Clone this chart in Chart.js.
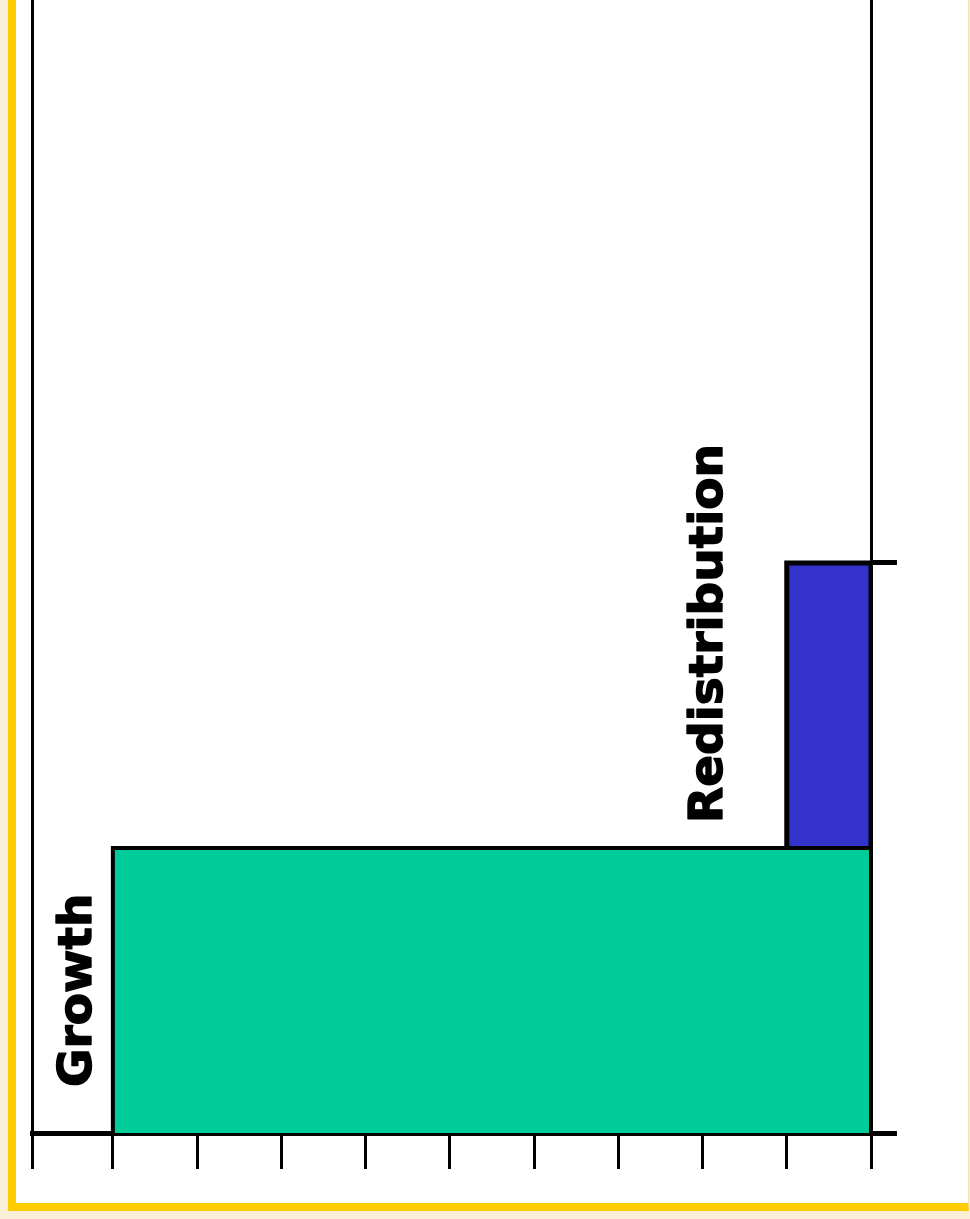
<!doctype html>
<html lang="en">
<head>
    <meta charset="utf-8">
    <title>Growth and Redistribution</title>
    <style>
        html, body { margin: 0; padding: 0; }
        body { width: 970px; height: 1219px; background: #f9eed7; position: relative; overflow: hidden; }
        .frame {
            position: absolute; left: 8px; top: -10px; width: 952px; height: 1213px;
            background: #fff; border-left: 8px solid #ffcc00; border-bottom: 8px solid #ffcc00;
            border-right: 1px solid #f3e3a6;
        }
        #chart { position: absolute; left: 0; top: 0; }
    </style>
</head>
<body>
    <div class="frame"></div>
    <canvas id="chart" width="970" height="1219"></canvas>

    <script src="https://cdn.jsdelivr.net/npm/chart.js"></script>
    <script>
        // segments of the diagram (x in tick units, y in relative height)
        const segmentLabels = ['Growth', 'Redistribution'];
        const segmentStart = [1, 9];
        const segmentEnd = [10, 10];
        const segmentBase = [0, 1];
        const segmentTop = [1, 2];
        const segmentColors = ['#00cc99', '#3333cc'];
        const xMin = 0.04;   // left axis sits a hair past zero
        const xTicks = [xMin, 1, 2, 3, 4, 5, 6, 7, 8, 9, 10];
        const rightTicks = [0, 2];

        function rect(i) {
            return [
                { x: segmentStart[i], y: segmentBase[i] },
                { x: segmentStart[i], y: segmentTop[i] },
                { x: segmentEnd[i], y: segmentTop[i] },
                { x: segmentEnd[i], y: segmentBase[i] }
            ];
        }

        const datasets = segmentLabels.map((label, i) => ({
            label: label,
            data: rect(i),
            backgroundColor: segmentColors[i],
            borderColor: '#000',
            borderWidth: i === 0 ? 4 : 5,
            pointRadius: 0,
            tension: 0,
            fill: { value: segmentBase[i] }
        }));

        // rotated labels next to each block
        const labelPlugin = {
            id: 'blockLabels',
            afterDatasetsDraw(chart) {
                const ctx = chart.ctx;
                const xs = chart.scales.x, ys = chart.scales.y;
                const anchors = [
                    { x: segmentStart[0] - 0.41, y: ys.getPixelForValue(segmentBase[0]) - 46 },
                    { x: segmentStart[1] - 0.91, y: ys.getPixelForValue(segmentTop[0]) - 25 }
                ];
                ctx.save();
                ctx.fillStyle = '#000';
                ctx.strokeStyle = '#000';
                ctx.lineWidth = 1.4;
                ctx.lineJoin = 'round';
                ctx.font = 'bold 47px "DejaVu Sans", Verdana, sans-serif';
                ctx.textAlign = 'left';
                ctx.textBaseline = 'middle';
                segmentLabels.forEach((label, i) => {
                    ctx.save();
                    ctx.translate(xs.getPixelForValue(anchors[i].x), anchors[i].y);
                    ctx.rotate(-Math.PI / 2);
                    ctx.fillText(label, 0, 0);
                    ctx.strokeText(label, 0, 0);
                    ctx.restore();
                });
                ctx.restore();
            }
        };

        new Chart(document.getElementById('chart'), {
            type: 'line',
            data: { datasets: datasets },
            options: {
                responsive: false,
                animation: false,
                layout: { padding: { left: 32, right: 73, top: 0, bottom: 50 } },
                plugins: { legend: { display: false }, tooltip: { enabled: false } },
                scales: {
                    x: {
                        type: 'linear', min: xMin, max: 10,
                        afterBuildTicks: s => { s.ticks = xTicks.map(v => ({ value: v })); },
                        ticks: { display: false },
                        grid: { drawOnChartArea: false, drawTicks: true, tickLength: 36, lineWidth: 3, color: '#000' },
                        border: { display: true, width: 5, color: '#000' }
                    },
                    y: {
                        position: 'left', min: 0, max: 3.975,
                        ticks: { display: false },
                        grid: { display: false, drawTicks: false },
                        border: { display: true, width: 3, color: '#000' }
                    },
                    y2: {
                        position: 'right', min: 0, max: 3.975,
                        afterBuildTicks: s => { s.ticks = rightTicks.map(v => ({ value: v })); },
                        ticks: { display: false },
                        grid: { drawOnChartArea: false, drawTicks: true, tickLength: 26, lineWidth: 5, color: '#000' },
                        border: { display: true, width: 3, color: '#000' }
                    }
                }
            },
            plugins: [labelPlugin]
        });
    </script>
</body>
</html>
